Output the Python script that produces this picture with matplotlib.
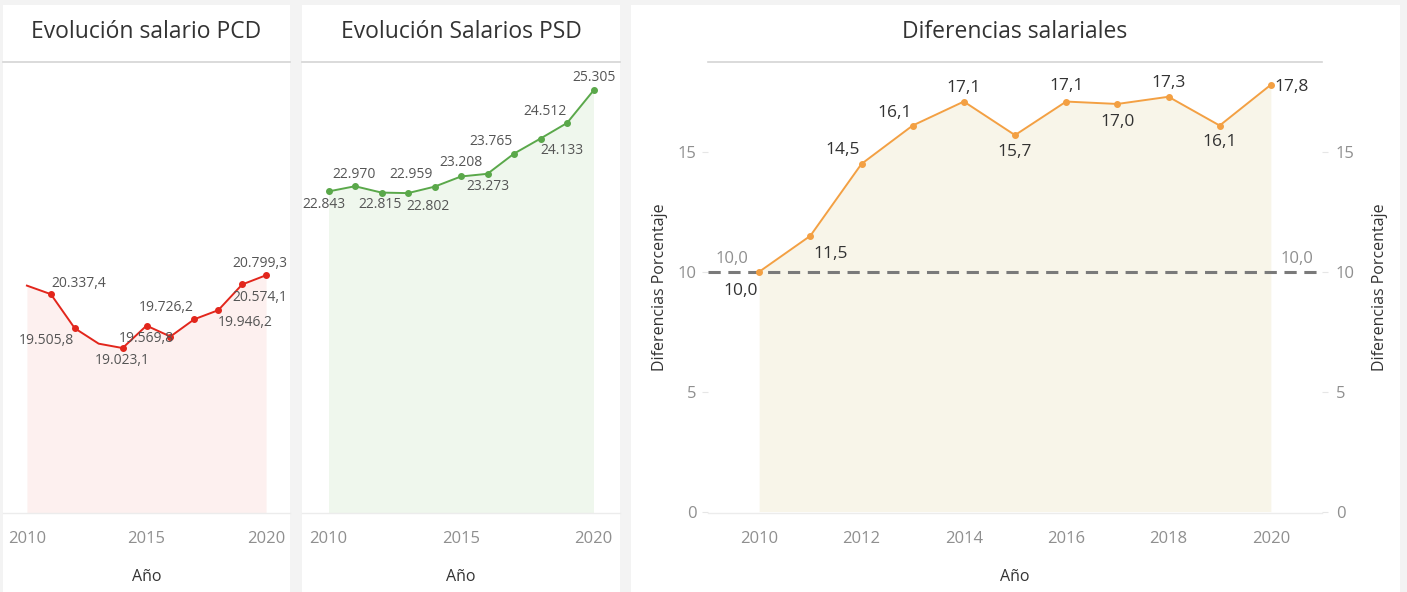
import matplotlib
matplotlib.use("Agg")
import matplotlib.pyplot as plt
from matplotlib.patches import Rectangle

plt.rcParams["font.family"] = ["Open Sans", "DejaVu Sans"]

W, H = 1407, 592

# --- data ---
years = [2010, 2011, 2012, 2013, 2014, 2015, 2016, 2017, 2018, 2019, 2020]
pcd = [20546, 20337.4, 19505.8, 19130, 19023.1, 19569.8, 19304, 19726.2, 19946.2, 20574.1, 20799.3]
psd = [22843, 22970, 22815, 22802, 22959, 23208, 23273, 23765, 24133, 24512, 25305]
diff = [10.0, 11.5, 14.5, 16.1, 17.1, 15.7, 17.1, 17.0, 17.3, 16.1, 17.8]
ref_value = 10.0

# label offsets in pixels (None = no label); marker flags
pcd_offsets = [None, (28, 11), (-28, -12), None, (0, -12), (0, -13), None, (-28, 12), (27, -12), (18, -13), (-6, 12)]
pcd_markers = [False, True, True, False, True, True, True, True, True, True, True]
psd_offsets = [(-5, -13), (-1, 12), (-1, -12), (20, -13), (-23, 12), (0, 14), (0, -13), (-23, 12), (21, -12), (-22, 12), (1, 13)]
diff_offsets = [(-18, -19), (20, -18), (-19, 14), (-18, 13), (0, 14), (0, -17), (0, 16), (0, -18), (0, 14), (0, -16), (21, -2)]

BG = "#f3f3f3"
RED, RED_FILL = "#e2261c", "#fdf0ef"
GREEN, GREEN_FILL = "#5aa84a", "#eff7ed"
ORANGE, ORANGE_FILL = "#f3a043", "#f8f5e9"


def es_num(v, dec):
    s = f"{v:,.{dec}f}"
    return s.replace(",", "X").replace(".", ",").replace("X", ".")


def frac_box(x0, x1, ytop, ybot):
    return [x0 / W, 1 - ybot / H, (x1 - x0) / W, (ybot - ytop) / H]


fig = plt.figure(figsize=(W / 100, H / 100), dpi=100)
fig.patch.set_facecolor(BG)

for x0, x1 in [(3, 290), (302, 620), (631, 1400)]:
    fig.patches.append(Rectangle((x0 / W, 0), (x1 - x0) / W, 1 - 5 / H,
                                 transform=fig.transFigure, facecolor="white",
                                 edgecolor="none", zorder=-10))


def style_axes(ax):
    ax.set_facecolor("none")
    for side in ["left", "right"]:
        ax.spines[side].set_visible(False)
    ax.spines["top"].set_color("#d4d4d4")
    ax.spines["top"].set_linewidth(1.2)
    ax.spines["bottom"].set_color("#ececec")
    ax.spines["bottom"].set_linewidth(1.0)
    ax.set_xlim(2009, 2021)
    ax.tick_params(axis="x", length=0, pad=13, labelsize=12, labelcolor="#8f8f8f")
    ax.set_xlabel("Año", fontsize=11.5, color="#333333", labelpad=16)


def salary_panel(ax, vals, color, fill, offsets, markers, dec, title, cx):
    style_axes(ax)
    ax.set_ylim(15000, 26000)
    ax.set_yticks([])
    ax.set_xticks([2010, 2015, 2020])
    ax.fill_between(years, vals, 15000, color=fill, lw=0, zorder=1)
    ax.plot(years, vals, color=color, lw=1.4, zorder=3)
    mx = [y for y, m in zip(years, markers) if m]
    my = [v for v, m in zip(vals, markers) if m]
    ax.plot(mx, my, "o", color=color, ms=4, zorder=4)
    for y, v, off in zip(years, vals, offsets):
        if off is None:
            continue
        ax.annotate(es_num(v, dec), (y, v), xytext=off, textcoords="offset pixels",
                    ha="center", va="center", fontsize=10, color="#555555", zorder=5)
    fig.text(cx / W, 1 - 32 / H, title, ha="center", va="center", fontsize=16.5, color="#333333")


ax1 = fig.add_axes(frac_box(3, 290, 62, 513))
salary_panel(ax1, pcd, RED, RED_FILL, pcd_offsets, pcd_markers, 1, "Evolución salario PCD", 146.5)

ax2 = fig.add_axes(frac_box(302, 620, 62, 513))
salary_panel(ax2, psd, GREEN, GREEN_FILL, psd_offsets, [True] * len(years), 0, "Evolución Salarios PSD", 461)

# --- differences panel ---
ax3 = fig.add_axes(frac_box(708, 1322, 62, 513))
style_axes(ax3)
ax3.set_ylim(-0.06, 18.75)
ax3.set_xticks(range(2010, 2021, 2))
ax3.set_yticks([0, 5, 10, 15])
ax3.tick_params(axis="y", length=4, color="#e6e6e6", pad=4, labelsize=12, labelcolor="#8f8f8f")
ax3.set_ylabel("Diferencias Porcentaje", fontsize=11.5, color="#333333", labelpad=7)

ax3r = ax3.twinx()
ax3r.set_ylim(ax3.get_ylim())
ax3r.set_yticks([0, 5, 10, 15])
for side in ["left", "right", "top", "bottom"]:
    ax3r.spines[side].set_visible(False)
ax3r.tick_params(axis="y", length=4, color="#e6e6e6", pad=6, labelsize=12, labelcolor="#8f8f8f")
ax3r.set_ylabel("Diferencias Porcentaje", fontsize=11.5, color="#333333", labelpad=12, rotation=90)

ax3.fill_between(years, diff, 0, color=ORANGE_FILL, lw=0, zorder=1)
ax3.axhline(ref_value, color="#7a7a7a", lw=2.2, ls=(0, (4, 2.5)), zorder=2)
ax3.plot(years, diff, color=ORANGE, lw=1.4, marker="o", ms=4, zorder=3)
for y, v, off in zip(years, diff, diff_offsets):
    ax3.annotate(es_num(v, 1), (y, v), xytext=off, textcoords="offset pixels",
                 ha="center", va="center", fontsize=12.5, color="#333333", zorder=5)
ax3.annotate(es_num(ref_value, 1), (0, ref_value), xycoords=("axes fraction", "data"),
             xytext=(24, 13), textcoords="offset pixels", ha="center", va="center",
             fontsize=12, color="#8f8f8f")
ax3.annotate(es_num(ref_value, 1), (1, ref_value), xycoords=("axes fraction", "data"),
             xytext=(-25, 13), textcoords="offset pixels", ha="center", va="center",
             fontsize=12, color="#8f8f8f")
fig.text(1015 / W, 1 - 32 / H, "Diferencias salariales", ha="center", va="center",
         fontsize=16.5, color="#333333")

fig.savefig("out.png", dpi=100, facecolor=BG)
